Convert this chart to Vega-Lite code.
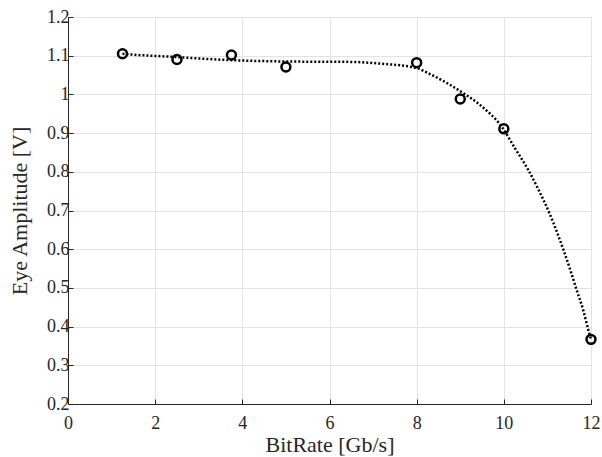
{
  "$schema": "https://vega.github.io/schema/vega-lite/v6.json",
  "width": 523,
  "height": 387,
  "autosize": "none",
  "padding": {"left": 68, "top": 17, "right": 11, "bottom": 53},
  "background": "white",
  "config": {
    "view": {"stroke": null},
    "font": "Liberation Serif",
    "axis": {
      "domainColor": "#262626",
      "domainWidth": 1,
      "tickColor": "#262626",
      "tickSize": -5,
      "gridColor": "#e3e3e3",
      "gridWidth": 1,
      "labelFont": "Liberation Serif",
      "labelFontSize": 18,
      "labelColor": "#262626",
      "labelOverlap": false,
      "labelFlush": false,
      "titleFont": "Liberation Serif",
      "titleFontSize": 22,
      "titleFontWeight": "normal",
      "titleColor": "#262626"
    }
  },
  "datasets": {
    "fit": [
      {"x": 1.25, "y": 1.105},
      {"x": 1.35, "y": 1.104},
      {"x": 2.41, "y": 1.097},
      {"x": 3.65, "y": 1.089},
      {"x": 5.03, "y": 1.085},
      {"x": 6.47, "y": 1.084},
      {"x": 7.23, "y": 1.079},
      {"x": 8.0, "y": 1.068},
      {"x": 8.26, "y": 1.055},
      {"x": 8.7, "y": 1.029},
      {"x": 9.06, "y": 1.004},
      {"x": 9.45, "y": 0.973},
      {"x": 9.98, "y": 0.912},
      {"x": 10.26, "y": 0.86},
      {"x": 10.56, "y": 0.805},
      {"x": 10.79, "y": 0.755},
      {"x": 11.02, "y": 0.7},
      {"x": 11.25, "y": 0.635},
      {"x": 11.37, "y": 0.598},
      {"x": 11.52, "y": 0.548},
      {"x": 11.67, "y": 0.495},
      {"x": 11.82, "y": 0.443},
      {"x": 11.94, "y": 0.391},
      {"x": 12.0, "y": 0.367}
    ],
    "meas": [
      {"x": 1.25, "y": 1.105},
      {"x": 2.5, "y": 1.09},
      {"x": 3.75, "y": 1.102},
      {"x": 5, "y": 1.071},
      {"x": 8, "y": 1.082},
      {"x": 9, "y": 0.988},
      {"x": 10, "y": 0.911},
      {"x": 12, "y": 0.367}
    ]
  },
  "encoding": {
    "x": {"field": "x", "type": "quantitative", "scale": {"domain": [0, 12], "nice": false},
      "axis": {"values": [0, 2, 4, 6, 8, 10, 12], "title": "BitRate [Gb/s]", "labelPadding": 15, "titlePadding": 2, "grid": true}},
    "y": {"field": "y", "type": "quantitative", "scale": {"domain": [0.2, 1.2], "nice": false, "zero": false},
      "axis": {"values": [0.2, 0.3, 0.4, 0.5, 0.6, 0.7, 0.8, 0.9, 1, 1.1, 1.2], "tickCount": 11, "format": "~g", "title": "Eye Amplitude [V]", "labelPadding": 4, "titlePadding": 15, "grid": true}}
  },
  "layer": [
    {
      "data": {"name": "fit"},
      "mark": {"type": "line", "color": "black", "strokeWidth": 2.5, "strokeDash": [2, 2], "interpolate": "monotone"}
    },
    {
      "data": {"name": "meas"},
      "mark": {"type": "point", "shape": "circle", "filled": false, "color": "black", "strokeWidth": 2.5, "size": 80, "opacity": 1}
    }
  ]
}
